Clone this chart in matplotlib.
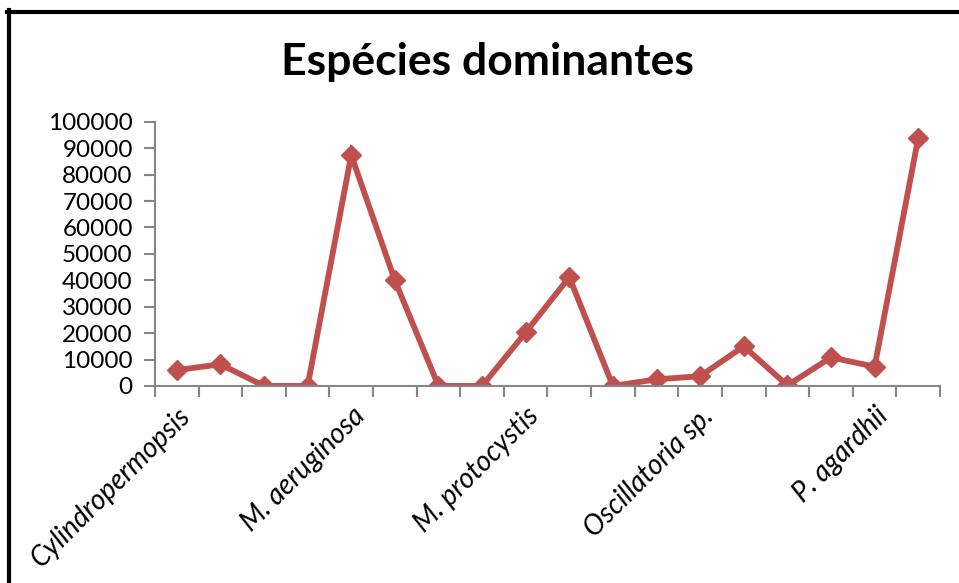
import matplotlib.pyplot as plt
import matplotlib.lines as mlines

# values (18 samples)
values = [6000, 8200, 0, 0, 87400, 40000, 0, 0, 20300, 41200,
          0, 2500, 3700, 15000, 200, 10800, 7300, 93800]
label_pos = [0, 4, 8, 12, 16]
labels = ['Cylindropermopsis', 'M. aeruginosa', 'M. protocystis',
          'Oscillatoria sp.', 'P. agardhii']
yticks = list(range(0, 100001, 10000))

plt.rcParams['font.family'] = ['Lato', 'DejaVu Sans']

fig = plt.figure(figsize=(9.59, 5.83), dpi=100)
ax = fig.add_axes([0.1616, 0.338, 0.8186, 0.453])

x = list(range(len(values)))
ax.plot(x, values, color='#C0504D', linewidth=4.2, marker='D',
        markersize=10.5, markeredgecolor='#C0504D', solid_joinstyle='miter')

ax.set_xlim(-0.5, len(values) - 0.5)
ax.set_ylim(0, 100000)
ax.set_yticks(yticks)
ax.set_yticklabels([str(v) for v in yticks], fontsize=17.5)

# tick marks between categories, labels on every 4th category
ax.set_xticks([i - 0.5 for i in range(len(values) + 1)])
ax.set_xticklabels([])
ax.set_xticks(label_pos, minor=True)
ax.set_xticklabels(labels, minor=True, rotation=45, ha='right',
                   rotation_mode='anchor', fontsize=20, style='italic')
ax.tick_params(axis='x', which='minor', length=0, pad=12)
ax.tick_params(axis='both', which='major', color='#868686', width=1.5,
               length=8, direction='out')
ax.tick_params(axis='y', pad=8)

for s in ['top', 'right']:
    ax.spines[s].set_visible(False)
for s in ['left', 'bottom']:
    ax.spines[s].set_color('#868686')
    ax.spines[s].set_linewidth(1.5)

fig.text(0.508, 0.893, 'Espécies dominantes', fontsize=32, fontweight='bold',
         ha='center', va='center')

# chart area border (left and top edges visible)
fig.add_artist(mlines.Line2D([0.0094, 0.0094], [0, 0.982], color='black',
                             linewidth=3, transform=fig.transFigure))
fig.add_artist(mlines.Line2D([0.0073, 1.0], [0.98, 0.98], color='black',
                             linewidth=3, transform=fig.transFigure))

plt.savefig('out.png', dpi=100)
